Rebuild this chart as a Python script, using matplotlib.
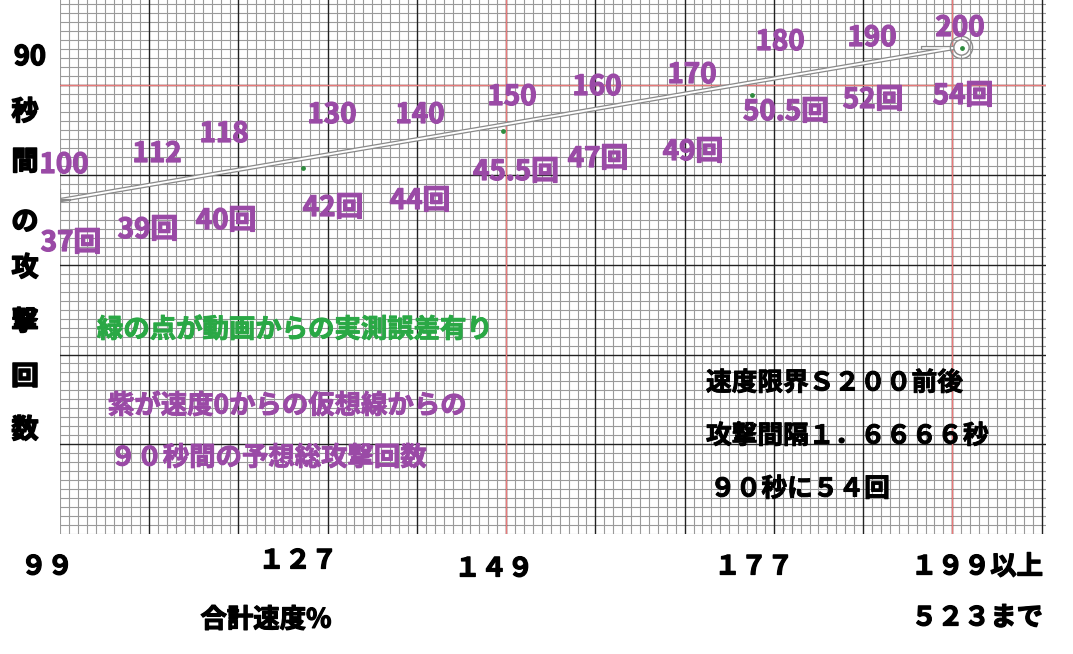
import matplotlib
matplotlib.use('Agg')
import matplotlib.pyplot as plt
import matplotlib.patheffects as pe
import numpy as np

plt.rcParams['font.family'] = ['Noto Sans CJK JP', 'DejaVu Sans']

W, H = 1073, 654
PURPLE = '#9a4aa6'
GREEN = '#2aa845'

# virtual line: speed 100 -> 37 hits, speed 200 -> 54 hits
line_speed = [100, 201]
line_count = [37.2, 54.3]

# green points measured from video
measured_speed = [99.1, 127.2, 149.6, 177.6, 201.1]
measured_count = [37.5, 40.8, 44.9, 48.9, 54.1]

speed_labels = ['100', '112', '118', '130', '140', '150', '160', '170', '180', '190', '200']
count_labels = ['37回', '39回', '40回', '42回', '44回', '45.5回', '47回', '49回', '50.5回', '52回', '54回']

x_tick_labels = ['９９', '１２７', '１４９', '１７７', '１９９以上']
y_label_chars = ['90', '秒', '間', 'の', '攻', '撃', '回', '数']

# text placement in reference pixels
speed_label_xy = [(64, 165), (157, 154), (224, 134), (332, 115), (420, 115), (512, 97),
                  (597, 87), (692, 75), (780, 42), (872, 38), (960, 28)]
count_label_xy = [(71, 243), (148, 230), (226, 221), (333, 208), (420, 201), (516, 172),
                  (598, 159), (693, 152), (786, 112), (873, 100), (963, 96)]
x_tick_xy = [(47, 567), (298, 561), (494, 569), (754, 567), (977, 567)]
y_char_xy = [(30, 57), (25, 112), (25, 162), (25, 222), (25, 268), (25, 322), (25, 377), (25, 430)]


def px(x, y):
    return x / W, 1 - y / H


def heavy(color, w=0.9):
    return [pe.withStroke(linewidth=w, foreground=color)]


fig = plt.figure(figsize=(W / 100, H / 100), dpi=100)
ax = fig.add_axes([60 / W, 1 - 534 / H, (1046 - 60) / W, 534 / H])
ax.set_xlim(100, 210.5)
ax.set_ylim(0, 59.5)

# graph paper grid
for v in np.arange(100, 211, 1):
    major = v % 10 == 0 and v > 100
    ax.axvline(v, color='#222222' if major else '#9a9a9a', lw=1.0 if major else 0.8, zorder=1 if major else 0)
for v in np.arange(0, 60, 1):
    major = v % 10 == 0 and v > 0
    ax.axhline(v, color='#222222' if major else '#9a9a9a', lw=1.0 if major else 0.8, zorder=1 if major else 0)
for v in [150, 200]:
    ax.axvline(v, color='#e87a7a', lw=1.0, zorder=2)
ax.axhline(50, color='#e87a7a', lw=1.0, zorder=2)

ax.set_xticks([])
ax.set_yticks([])
for s in ax.spines.values():
    s.set_visible(False)

# double line
ax.plot(line_speed, line_count, color='#8a8a8a', lw=3.2, zorder=3, solid_capstyle='butt')
ax.plot(line_speed, line_count, color='white', lw=1.4, zorder=4, solid_capstyle='butt')
ax.plot(line_speed[:1], line_count[:1], marker='+', ms=16, mew=1.6, color='#8a8a8a', zorder=5)
ax.plot([196.7, line_speed[1]], [line_count[1] - 0.2, line_count[1] - 0.2], color='#8a8a8a', lw=3.0, zorder=3)
ax.plot([196.7, line_speed[1]], [line_count[1] - 0.2, line_count[1] - 0.2], color='white', lw=1.2, zorder=4)
ax.plot(line_speed[1:], line_count[1:], marker='o', ms=16, mfc='none', mec='#8a8a8a', mew=1.0, zorder=5)
ax.plot(line_speed[1:], line_count[1:], marker='o', ms=11, mfc='white', mec='#8a8a8a', mew=1.0, zorder=5)

ax.scatter(measured_speed, measured_count, s=6, color='#2e8b3e', zorder=6)

# purple labels
for lab, (x, y) in zip(speed_labels, speed_label_xy):
    fig.text(*px(x, y), lab, color=PURPLE, fontsize=20, fontweight='bold', ha='center', va='center',
             path_effects=heavy(PURPLE))
for lab, (x, y) in zip(count_labels, count_label_xy):
    fig.text(*px(x, y), lab, color=PURPLE, fontsize=20, fontweight='bold', ha='center', va='center',
             path_effects=heavy(PURPLE))

# y label as vertical characters
for ch, (x, y) in zip(y_label_chars, y_char_xy):
    fig.text(*px(x, y), ch, color='black', fontsize=19.5, fontweight='bold', ha='center', va='center',
             path_effects=heavy('black', 1.1))

# x tick labels
for lab, (x, y) in zip(x_tick_labels, x_tick_xy):
    fig.text(*px(x, y), lab, color='black', fontsize=19, fontweight='bold', ha='center', va='center',
             path_effects=heavy('black'))
fig.text(*px(266, 620), '合計速度%', color='black', fontsize=19, fontweight='bold', ha='center', va='center',
         path_effects=heavy('black'))
fig.text(*px(977, 618), '５２３まで', color='black', fontsize=19, fontweight='bold', ha='center', va='center',
         path_effects=heavy('black'))

# notes
fig.text(*px(97, 330), '緑の点が動画からの実測誤差有り', color=GREEN, fontsize=19, fontweight='bold',
         ha='left', va='center', path_effects=heavy(GREEN, 0.7))
fig.text(*px(108, 406), '紫が速度0からの仮想線からの', color=PURPLE, fontsize=19, fontweight='bold',
         ha='left', va='center', path_effects=heavy(PURPLE, 0.7))
fig.text(*px(110, 458), '９０秒間の予想総攻撃回数', color=PURPLE, fontsize=19, fontweight='bold',
         ha='left', va='center', path_effects=heavy(PURPLE, 0.7))

fig.text(*px(706, 383), '速度限界Ｓ２００前後', color='black', fontsize=18.5, fontweight='bold',
         ha='left', va='center', path_effects=heavy('black', 0.7))
fig.text(*px(706, 436), '攻撃間隔１．６６６６秒', color='black', fontsize=18.5, fontweight='bold',
         ha='left', va='center', path_effects=heavy('black', 0.7))
fig.text(*px(710, 489), '９０秒に５４回', color='black', fontsize=18.5, fontweight='bold',
         ha='left', va='center', path_effects=heavy('black', 0.7))

fig.savefig('out.png', dpi=100, facecolor='white')
